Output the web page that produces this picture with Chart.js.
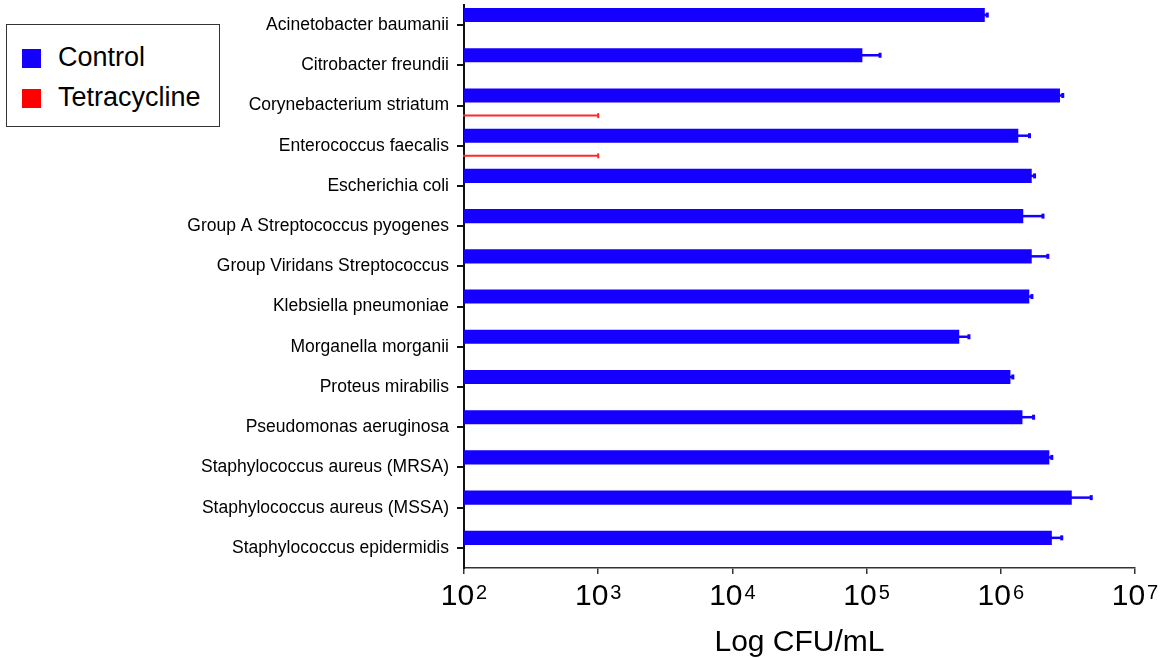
<!DOCTYPE html>
<html lang="en">
<head>
    <title>Log CFU/mL</title>
    <script src="https://cdn.jsdelivr.net/npm/chart.js@4.4.1/dist/chart.umd.min.js"></script>
    <style>
        body { margin: 0; background: #fff; }
        #wrap { position: relative; width: 1164px; height: 658px; }
        #legende {
            position: absolute; left: 6px; top: 24px; width: 212px; height: 101px;
            border: 1.5px solid #333; background: #fff;
            font-family: "Liberation Sans", Arial, sans-serif; font-size: 27px; color: #000;
        }
        .item { position: absolute; left: 15px; height: 30px; line-height: 30px; white-space: nowrap; }
        .item span { display: inline-block; width: 19px; height: 19px; margin-right: 17px; vertical-align: -2px; }
    </style>
</head>
<body>
<div id="wrap">
    <canvas id="monGraphique" width="1164" height="658"></canvas>
    <div id="legende"></div>
</div>

<script>
    var categories = [
        'Acinetobacter baumanii',
        'Citrobacter freundii',
        'Corynebacterium striatum',
        'Enterococcus faecalis',
        'Escherichia coli',
        'Group A Streptococcus pyogenes',
        'Group Viridans Streptococcus',
        'Klebsiella pneumoniae',
        'Morganella morganii',
        'Proteus mirabilis',
        'Pseudomonas aeruginosa',
        'Staphylococcus aureus (MRSA)',
        'Staphylococcus aureus (MSSA)',
        'Staphylococcus epidermidis'
    ];
    // moyennes et écarts (CFU/mL)
    var controlValues = [7.6e5, 9.3e4, 2.76e6, 1.35e6, 1.70e6, 1.47e6, 1.70e6,
        1.63e6, 4.9e5, 1.18e6, 1.45e6, 2.30e6, 3.38e6, 2.40e6];
    var controlSd = [0.4e5, 3.4e4, 1.6e5, 3.0e5, 1.0e5, 6.1e5, 5.6e5,
        0.9e5, 0.94e5, 0.6e5, 3.2e5, 1.2e5, 1.38e6, 4.7e5];
    var tetracyclineValues = [null, null, 100, 100, null, null, null,
        null, null, null, null, null, null, null];
    var tetracyclineSd = [null, null, 900, 900, null, null, null,
        null, null, null, null, null, null, null];
    var xTicks = [1e2, 1e3, 1e4, 1e5, 1e6, 1e7];

    var police = '"Liberation Sans", Arial, sans-serif';
    Chart.defaults.font.family = police;
    Chart.defaults.color = '#000';

    // barres d'erreur (moyenne -> moyenne + écart)
    var errorBars = {
        id: 'errorBars',
        afterDatasetsDraw: function (chart) {
            var ctx = chart.ctx;
            var xs = chart.scales.x;
            chart.data.datasets.forEach(function (ds, i) {
                var meta = chart.getDatasetMeta(i);
                meta.data.forEach(function (bar, j) {
                    var v = ds.data[j], sd = ds.errors[j];
                    if (v == null || sd == null) return;
                    var x0 = bar.x - 1;
                    var x1 = xs.getPixelForValue(v + sd);
                    ctx.save();
                    ctx.strokeStyle = ds.errorColor;
                    ctx.fillStyle = ds.errorColor;
                    ctx.lineWidth = ds.errorWidth;
                    ctx.beginPath();
                    ctx.moveTo(x0, bar.y);
                    ctx.lineTo(x1, bar.y);
                    ctx.stroke();
                    ctx.fillRect(x1 - ds.capWidth + 1, bar.y - 2.5, ds.capWidth, 5);
                    ctx.restore();
                });
            });
        }
    };

    // étiquettes 10^n avec exposant
    var powerTicks = {
        id: 'powerTicks',
        afterDraw: function (chart) {
            var s = chart.scales.x;
            var ctx = chart.ctx;
            ctx.save();
            ctx.fillStyle = '#000';
            ctx.textAlign = 'left';
            ctx.textBaseline = 'alphabetic';
            s.ticks.forEach(function (t) {
                var base = '10';
                var exp = String(Math.round(Math.log10(t.value)));
                ctx.font = '30px ' + police;
                var wb = ctx.measureText(base).width;
                ctx.font = '20px ' + police;
                var we = ctx.measureText(exp).width;
                var x = s.getPixelForValue(t.value) - (wb + 2 + we) / 2;
                ctx.font = '30px ' + police;
                ctx.fillText(base, x, s.top + 37);
                ctx.font = '20px ' + police;
                ctx.fillText(exp, x + wb + 2, s.top + 31);
            });
            ctx.restore();
        }
    };

    var ctx = document.getElementById('monGraphique').getContext('2d');
    var chart = new Chart(ctx, {
        type: 'bar',
        data: {
            labels: categories,
            datasets: [{
                label: 'Control',
                data: controlValues,
                errors: controlSd,
                backgroundColor: 'rgb(21, 0, 255)',
                errorColor: 'rgb(21, 0, 255)',
                errorWidth: 2.5,
                capWidth: 3
            }, {
                label: 'Tetracycline',
                data: tetracyclineValues,
                errors: tetracyclineSd,
                backgroundColor: 'rgb(255, 0, 0)',
                errorColor: 'rgb(255, 40, 40)',
                errorWidth: 2,
                capWidth: 2
            }]
        },
        options: {
            indexAxis: 'y',
            responsive: false,
            animation: false,
            categoryPercentage: 1.0,
            barPercentage: 0.7,
            layout: { padding: { top: 5, right: 29, bottom: 0, left: 0 } },
            plugins: {
                legend: { display: false },
                tooltip: { enabled: false }
            },
            scales: {
                x: {
                    type: 'logarithmic',
                    min: 1e2,
                    max: 1e7,
                    afterBuildTicks: function (scale) {
                        scale.ticks = xTicks.map(function (v) { return { value: v }; });
                    },
                    afterFit: function (scale) { scale.height = 90; },
                    ticks: { display: false },
                    grid: { drawOnChartArea: false, drawTicks: true, tickLength: 6, color: '#333', lineWidth: 1.5 },
                    border: { display: true, color: '#333', width: 1.5 },
                    title: {
                        display: true,
                        text: 'Log CFU/mL',
                        font: { size: 30, lineHeight: 1 },
                        color: '#000',
                        padding: { top: 0, bottom: 0 }
                    }
                },
                y: {
                    afterFit: function (scale) {
                        scale.width = 464;
                        scale.paddingTop = 0;
                        scale.paddingBottom = 0;
                    },
                    ticks: { font: { size: 17.5 }, color: '#000', padding: 8 },
                    grid: { offset: false, drawOnChartArea: false, drawTicks: true, tickLength: 7, color: '#111', lineWidth: 2 },
                    border: { display: true, color: '#111', width: 2 }
                }
            }
        },
        plugins: [errorBars, powerTicks]
    });

    // légende construite à partir des jeux de données
    var legende = document.getElementById('legende');
    chart.data.datasets.forEach(function (ds, i) {
        var item = document.createElement('div');
        item.className = 'item';
        item.style.top = (17 + i * 40) + 'px';
        var carre = document.createElement('span');
        carre.style.background = ds.backgroundColor;
        item.appendChild(carre);
        item.appendChild(document.createTextNode(ds.label));
        legende.appendChild(item);
    });
</script>
</body>
</html>
